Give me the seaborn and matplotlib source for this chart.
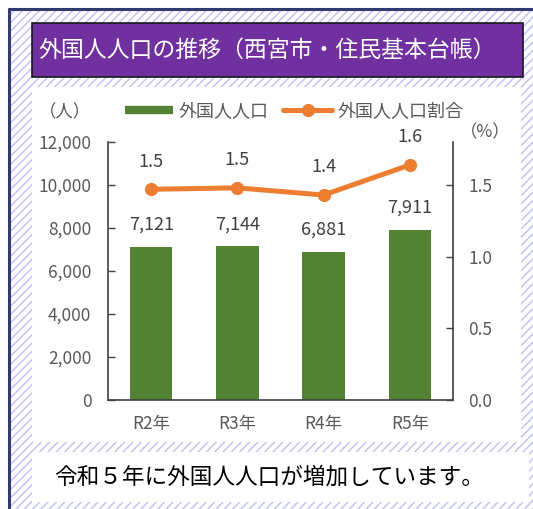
import matplotlib
matplotlib.use("Agg")
import matplotlib.pyplot as plt
from matplotlib.patches import Rectangle
from matplotlib.lines import Line2D
import seaborn as sns
import pandas as pd

# ---- data ----
years = ["R2年", "R3年", "R4年", "R5年"]
population = [7121, 7144, 6881, 7911]
ratio = [1.47, 1.48, 1.43, 1.64]
ratio_labels = ["1.5", "1.5", "1.4", "1.6"]
left_ticks = [0, 2000, 4000, 6000, 8000, 10000, 12000]
right_ticks = [0.0, 0.5, 1.0, 1.5]
title = "外国人人口の推移（西宮市・住民基本台帳）"
caption = "令和５年に外国人人口が増加しています。"
legend_labels = ["外国人人口", "外国人人口割合"]

df = pd.DataFrame({"year": years, "population": population, "ratio": ratio})

sns.set_style("white")
plt.rcParams['font.family'] = ['Noto Sans CJK JP', 'DejaVu Sans']
plt.rcParams['hatch.linewidth'] = 1.1

GREEN = "#548235"
ORANGE = "#ED7D31"
PURPLE = "#7030A0"
GRAY = "#595959"
HATCH = "#C4C4F4"

W, H = 533, 509
fig = plt.figure(figsize=(W / 100, H / 100), dpi=100)
fig.patch.set_facecolor("white")

# background layer in pixel coordinates
bg = fig.add_axes([0, 0, 1, 1], zorder=0)
bg.set_xlim(0, W)
bg.set_ylim(H, 0)
bg.axis("off")

bg.add_patch(Rectangle((9, 9), W - 9, H - 9, facecolor="white", edgecolor=HATCH,
                       hatch="////", linewidth=0))
bg.plot([9, 9], [8, H], color="#2F3B70", lw=2.2, solid_capstyle="butt")
bg.plot([8, W], [9, 9], color="#2F3B70", lw=2.2, solid_capstyle="butt")

# title box
bg.add_patch(Rectangle((32, 23), 491, 54, facecolor=PURPLE, edgecolor="#1a1a1a", lw=1.2))
bg.text(38, 50, title, color="white", fontsize=16.5, ha="left", va="center")

# chart panel
bg.add_patch(Rectangle((32, 87), 489, 355, facecolor="white", edgecolor="none"))
# caption box
bg.add_patch(Rectangle((32, 452), 497, 50, facecolor="white", edgecolor="none"))
bg.text(269, 477, caption, color="black", fontsize=16.3, ha="center", va="center")

# unit labels
bg.text(65, 112, "（人）", color=GRAY, fontsize=12.5, ha="center", va="center")
bg.text(485, 132, "（%）", color=GRAY, fontsize=12.5, ha="center", va="center")

# ---- main axes ----
ax = fig.add_axes([108 / W, 1 - 400 / H, 345 / W, 258 / H], zorder=2)
ax.set_facecolor("none")
sns.barplot(data=df, x="year", y="population", ax=ax, color=GREEN, width=0.49,
            saturation=1, edgecolor="none")
ax.set_xlim(-0.5, 3.5)
ax.set_ylim(0, 12000)
ax.set_yticks(left_ticks)
ax.set_yticklabels([f"{v:,}" for v in left_ticks])
ax.set_xlabel("")
ax.set_ylabel("")
ax.set_xticks([0.5, 1.5, 2.5], minor=True)
ax.tick_params(axis="x", which="major", length=0, pad=11, labelsize=12.5, labelcolor=GRAY)
ax.tick_params(axis="x", which="minor", direction="in", length=4, width=1, color="#404040")
ax.tick_params(axis="y", direction="in", length=5, width=1, color="#404040", pad=12,
               labelsize=12.5, labelcolor=GRAY)
for s in ["left", "bottom"]:
    ax.spines[s].set_color("#404040")
    ax.spines[s].set_linewidth(1.2)
ax.spines["top"].set_visible(False)
ax.spines["right"].set_visible(False)

for i, v in enumerate(population):
    ax.annotate(f"{v:,}", (i, v), xytext=(0, 16), textcoords="offset points",
                ha="center", va="center", fontsize=13, color="#404040")

ax2 = ax.twinx()
ax2.set_zorder(3)
sns.lineplot(data=df, x="year", y="ratio", ax=ax2, color=ORANGE, linewidth=3.6,
             marker="o", markersize=9.5, markeredgewidth=0, sort=False)
ax2.set_ylim(0, 1.8)
ax2.set_yticks(right_ticks)
ax2.set_yticklabels([f"{v:.1f}" for v in right_ticks])
ax2.set_ylabel("")
ax2.tick_params(axis="y", direction="in", length=5, width=1, color="#404040", pad=11,
                labelsize=12.5, labelcolor=GRAY)
ax2.spines["right"].set_color("#404040")
ax2.spines["right"].set_linewidth(1.2)
for s in ["top", "left", "bottom"]:
    ax2.spines[s].set_visible(False)

for i, (v, lab) in enumerate(zip(ratio, ratio_labels)):
    ax2.annotate(lab, (i, v), xytext=(0, 20), textcoords="offset points",
                 ha="center", va="center", fontsize=13, color="#404040")

handles = [Line2D([0], [0], color=GREEN, lw=6, solid_capstyle="butt"),
           Line2D([0], [0], color=ORANGE, lw=3.6, marker="o", markersize=9.5,
                  markeredgewidth=0)]
fig.legend(handles, legend_labels, ncol=2, loc="center",
           bbox_to_anchor=(294 / W, 1 - 111 / H), frameon=False, fontsize=13,
           handlelength=2.7, handletextpad=0.3, columnspacing=0.8, labelcolor=GRAY)

fig.savefig("out.png", dpi=100)
